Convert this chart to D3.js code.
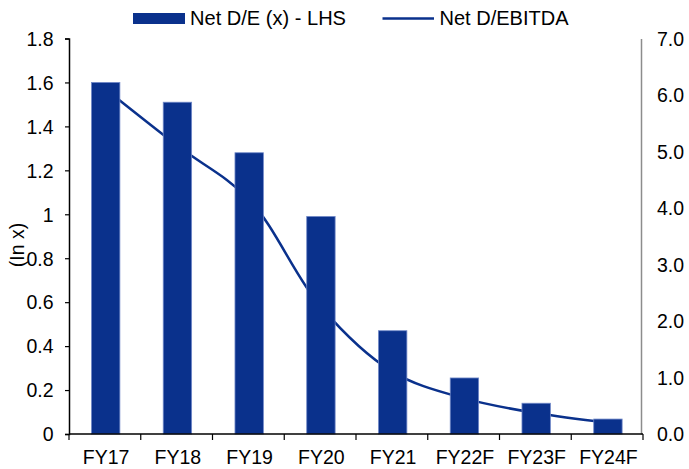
<!DOCTYPE html>
<html>
<head>
<meta charset="utf-8">
<script src="https://cdn.jsdelivr.net/npm/d3@7"></script>
<style>
  html, body { margin: 0; padding: 0; background: #fff; }
  svg text { font-family: "Liberation Sans", Arial, sans-serif; fill: #000; }
</style>
</head>
<body>
<svg id="chart" width="689" height="469"></svg>
<script>
// Fiscal years on the x axis
const categories = ["FY17", "FY18", "FY19", "FY20", "FY21", "FY22F", "FY23F", "FY24F"];
// Net debt / equity (left axis)
const netDE = [1.60, 1.51, 1.28, 0.99, 0.47, 0.255, 0.14, 0.068];
// Net debt / EBITDA (right axis)
const netDEbitda = [6.1, 5.1, 4.15, 2.25, 1.1, 0.63, 0.37, 0.2];
// Axis tick values
const leftTicks = [0, 0.2, 0.4, 0.6, 0.8, 1, 1.2, 1.4, 1.6, 1.8];
const rightTicks = [0, 1, 2, 3, 4, 5, 6, 7];
const seriesNames = ["Net D/E (x) - LHS", "Net D/EBITDA"];

const navy = "#0a318c";
const fs = "19.5px";
const svg = d3.select("#chart");
const m = { left: 69, right: 46, top: 38.5, bottom: 35 };
const W = 689, H = 469;

const xb = d3.scaleBand().domain(categories).range([m.left, W - m.right]);
const yL = d3.scaleLinear().domain([0, 1.8]).range([H - m.bottom, m.top]);
const yR = d3.scaleLinear().domain([0, 7]).range([H - m.bottom, m.top]);
const cx = c => xb(c) + xb.bandwidth() / 2 + 0.8;

// Net D/EBITDA smoothed line (drawn beneath the bars)
const line = d3.line()
  .x((d, i) => cx(categories[i]))
  .y(d => yR(d))
  .curve(d3.curveCatmullRom.alpha(0.5));
svg.append("path")
  .datum(netDEbitda)
  .attr("d", line)
  .attr("fill", "none")
  .attr("stroke", navy)
  .attr("stroke-width", 2.5);

// Net D/E bars
svg.append("g").selectAll("rect")
  .data(netDE)
  .join("rect")
  .attr("x", (d, i) => cx(categories[i]) - 14.2)
  .attr("width", 28.4)
  .attr("y", d => yL(d))
  .attr("height", d => yL(0) - yL(d))
  .attr("fill", navy)
  .attr("stroke", "#7088c8")
  .attr("stroke-width", 0.8);

// Left axis
const gL = svg.append("g")
  .attr("transform", `translate(${m.left},0)`)
  .call(d3.axisLeft(yL).tickValues(leftTicks).tickFormat(d3.format("")).tickSize(4).tickPadding(11.5));
gL.select(".domain").attr("stroke", "#000").attr("stroke-width", 1.5);
gL.selectAll(".tick line").attr("stroke", "#000").attr("stroke-width", 1.2);
gL.selectAll("text").style("font-size", fs).attr("dy", "0.35em");

// Right axis
const gR = svg.append("g")
  .attr("transform", `translate(${W - m.right - 2},0)`)
  .call(d3.axisRight(yR).tickValues(rightTicks).tickFormat(d3.format(".1f")).tickSize(0).tickPadding(16));
gR.select(".domain").attr("stroke", "#8c8c8c").attr("stroke-width", 1.5);
gR.selectAll("text").style("font-size", fs).attr("dy", "0.35em");

// Bottom axis with ticks between categories
const gB = svg.append("g")
  .attr("transform", `translate(0,${H - m.bottom})`);
gB.append("line")
  .attr("x1", m.left).attr("x2", W - m.right)
  .attr("stroke", "#000").attr("stroke-width", 1.5);
gB.selectAll("line.tk")
  .data(categories.concat(["_end"]))
  .join("line")
  .attr("class", "tk")
  .attr("x1", (d, i) => i < categories.length ? xb(d) : xb.range()[1])
  .attr("x2", (d, i) => i < categories.length ? xb(d) : xb.range()[1])
  .attr("y1", 0).attr("y2", 6)
  .attr("stroke", "#000").attr("stroke-width", 1.2);
gB.selectAll("text")
  .data(categories)
  .join("text")
  .attr("x", d => cx(d) + 0.5)
  .attr("y", 30)
  .attr("text-anchor", "middle")
  .style("font-size", fs)
  .text(d => d);

// Left axis title
svg.append("text")
  .attr("transform", "translate(24,245) rotate(-90)")
  .attr("text-anchor", "middle")
  .style("font-size", fs)
  .text("(In x)");

// Legend
const lg = svg.append("g");
lg.append("rect").attr("x", 133).attr("y", 13).attr("width", 52).attr("height", 11).attr("fill", navy);
lg.append("text").attr("x", 190).attr("y", 25).style("font-size", "20px")
  .attr("textLength", 156).attr("lengthAdjust", "spacingAndGlyphs").text(seriesNames[0]);
lg.append("line").attr("x1", 382.5).attr("x2", 434).attr("y1", 18.5).attr("y2", 18.5)
  .attr("stroke", navy).attr("stroke-width", 2.5);
lg.append("text").attr("x", 439.5).attr("y", 25).style("font-size", "20px")
  .attr("textLength", 129).attr("lengthAdjust", "spacingAndGlyphs").text(seriesNames[1]);
</script>
</body>
</html>
